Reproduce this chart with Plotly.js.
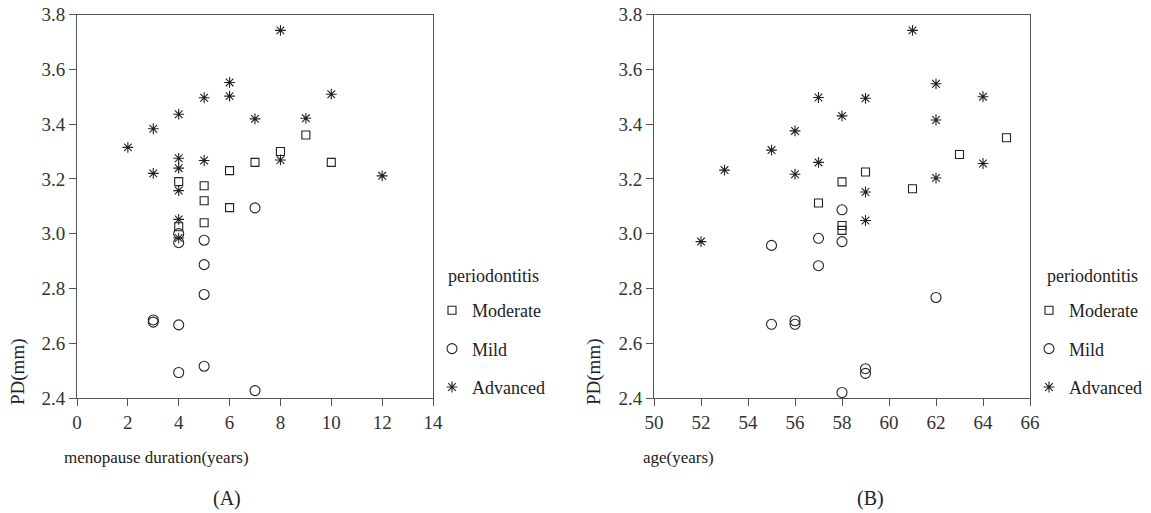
<!DOCTYPE html>
<html>
<head>
<meta charset="utf-8">
<script src="https://cdn.plot.ly/plotly-3.0.1.min.js"></script>
<style>html,body{margin:0;padding:0;background:#fff;}#chart{width:1151px;height:513px;}</style>
</head>
<body>
<div id="chart"></div>
<script>
// ---- Data: panel A (menopause duration, years) ----
const durModerateX = [4, 4, 5, 5, 5, 6, 6, 7, 8, 9, 10];
const durModerateY = [3.19, 3.025, 3.175, 3.12, 3.04, 3.23, 3.095, 3.26, 3.30, 3.36, 3.26];
const durMildX = [3, 3, 4, 4, 4, 4, 5, 5, 5, 5, 7, 7];
const durMildY = [2.685, 2.677, 3.0, 2.967, 2.667, 2.493, 2.976, 2.887, 2.778, 2.516, 3.094, 2.427];
const durAdvancedX = [2, 3, 3, 4, 4, 4, 4, 4, 4, 5, 5, 6, 6, 7, 8, 8, 9, 10, 12];
const durAdvancedY = [3.315, 3.383, 3.22, 3.436, 3.275, 3.239, 3.157, 3.052, 2.984, 3.496, 3.267, 3.552, 3.502, 3.419, 3.742, 3.269, 3.421, 3.509, 3.211];

// ---- Data: panel B (age, years) ----
const ageModerateX = [57, 58, 58, 58, 59, 61, 63, 65];
const ageModerateY = [3.112, 3.189, 3.03, 3.012, 3.225, 3.164, 3.289, 3.35];
const ageMildX = [55, 55, 56, 56, 57, 57, 58, 58, 58, 59, 59, 62];
const ageMildY = [2.957, 2.669, 2.682, 2.669, 2.983, 2.883, 3.087, 2.971, 2.42, 2.507, 2.49, 2.767];
const ageAdvancedX = [52, 53, 55, 56, 56, 57, 57, 58, 59, 59, 59, 61, 62, 62, 62, 64, 64];
const ageAdvancedY = [2.971, 3.232, 3.305, 3.375, 3.217, 3.497, 3.26, 3.43, 3.494, 3.152, 3.048, 3.742, 3.547, 3.415, 3.203, 3.5, 3.256];

// ---- Labels ----
const groupNames = ['Moderate', 'Mild', 'Advanced'];
const legendTitle = 'periodontitis';
const xTitleA = 'menopause duration(years)';
const xTitleB = 'age(years)';
const yTitle = 'PD(mm)';
const panelA = '(A)';
const panelB = '(B)';

const FONT = "'Liberation Serif', 'Times New Roman', serif";
const INK = '#222';
const W = 1151, H = 513;
const px = v => v / W;
const py = v => 1 - v / H;

const symbols = ['square-open', 'circle-open', 'asterisk-open'];
const sizes = [8, 10, 9];

function mk(x, y, i, xa, ya, leg) {
  return {
    type: 'scatter', mode: 'markers', x: x, y: y,
    xaxis: xa, yaxis: ya, name: groupNames[i],
    legend: leg, legendgroup: leg + groupNames[i],
    marker: {symbol: symbols[i], size: sizes[i], color: '#222', line: {width: 1.1, color: '#222'}},
    hoverinfo: 'x+y+name'
  };
}

const data = [
  mk(durModerateX, durModerateY, 0, 'x', 'y', 'legend'),
  mk(durMildX, durMildY, 1, 'x', 'y', 'legend'),
  mk(durAdvancedX, durAdvancedY, 2, 'x', 'y', 'legend'),
  mk(ageModerateX, ageModerateY, 0, 'x2', 'y2', 'legend2'),
  mk(ageMildX, ageMildY, 1, 'x2', 'y2', 'legend2'),
  mk(ageAdvancedX, ageAdvancedY, 2, 'x2', 'y2', 'legend2')
];

const yDom = [py(398), py(14.5)];
const axBase = {
  showgrid: false, zeroline: false, showline: true, mirror: true,
  linecolor: '#555', linewidth: 1, ticks: 'outside', ticklen: 7,
  tickcolor: '#555', tickwidth: 1,
  tickfont: {family: FONT, size: 19, color: '#333'}
};

const legBase = {
  bgcolor: 'rgba(0,0,0,0)', borderwidth: 0,
  font: {family: FONT, size: 18, color: INK},
  tracegroupgap: 12, yanchor: 'top', xanchor: 'left'
};

const ann = (text, x, y, size, extra) => Object.assign({
  text: text, xref: 'paper', yref: 'paper', x: px(x), y: py(y),
  xanchor: 'left', yanchor: 'middle', showarrow: false,
  font: {family: FONT, size: size, color: INK}
}, extra || {});

const layout = {
  width: W, height: H,
  margin: {l: 0, r: 0, t: 0, b: 0},
  paper_bgcolor: '#fff', plot_bgcolor: '#fff',
  showlegend: true,
  xaxis: Object.assign({}, axBase, {domain: [px(77), px(433)], range: [0, 14], dtick: 2, tick0: 0, anchor: 'y'}),
  yaxis: Object.assign({}, axBase, {domain: yDom, range: [2.4, 3.8], dtick: 0.2, tick0: 2.4, tickformat: '.1f', anchor: 'x'}),
  xaxis2: Object.assign({}, axBase, {domain: [px(654), px(1030)], range: [50, 66], dtick: 2, tick0: 50, anchor: 'y2'}),
  yaxis2: Object.assign({}, axBase, {domain: yDom, range: [2.4, 3.8], dtick: 0.2, tick0: 2.4, tickformat: '.1f', anchor: 'x2'}),
  legend: Object.assign({}, legBase, {x: px(432), y: py(292)}),
  legend2: Object.assign({}, legBase, {x: px(1029), y: py(292)}),
  annotations: [
    ann(legendTitle, 446, 276, 18),
    ann(legendTitle, 1045, 276, 18),
    ann(xTitleA, 62, 457, 17),
    ann(xTitleB, 641, 457, 17),
    ann(yTitle, 18, 372, 19, {textangle: -90, xanchor: 'center'}),
    ann(yTitle, 594, 372, 19, {textangle: -90, xanchor: 'center'}),
    ann(panelA, 227, 498, 20, {xanchor: 'center'}),
    ann(panelB, 870, 498, 20, {xanchor: 'center'})
  ]
};

Plotly.newPlot('chart', data, layout, {displayModeBar: false, staticPlot: true});
</script>
</body>
</html>
